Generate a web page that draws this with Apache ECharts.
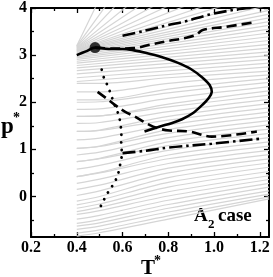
<!DOCTYPE html>
<html><head><meta charset="utf-8">
<script src="https://cdn.jsdelivr.net/npm/echarts@6/dist/echarts.min.js"></script>
<style>html,body{margin:0;padding:0;background:#fff}#c{width:273px;height:277px}</style>
</head><body><div id="c"></div>
<script>
// ---- tick values ----
const xTicks = [0.2, 0.4, 0.6, 0.8, 1.0, 1.2];
const xMinor = [0.3, 0.5, 0.7, 0.9, 1.1];
const yTicks = [0, 1, 2, 3, 4];
const yMinor = [-0.5, 0.5, 1.5, 2.5, 3.5];

// ---- gray fan isochores (straight, T=0.4 -> T=1.24; values above 4 are clipped) ----
const fanT = [0.4, 1.24];
const fanStart = [3.20, 3.19, 3.18, 3.17, 3.16, 3.15, 3.14, 3.13, 3.12, 3.11, 3.10, 3.09,
                  3.08, 3.06, 3.04, 3.02, 3.00, 2.97, 2.94, 2.91, 2.87, 2.83, 2.78, 2.73, 2.67, 2.60, 2.52, 2.44];
const fanEnd   = [11.6, 8.86, 7.49, 6.49, 5.87, 5.38, 5.04, 4.75, 4.51, 4.34, 4.18, 4.06,
                  3.95, 3.87, 3.79, 3.71, 3.63, 3.55, 3.47, 3.39, 3.31, 3.23, 3.15, 3.07, 2.99, 2.91, 2.83, 2.75];

// ---- gray lower isochores (p at T = 0.4, 0.5, 0.8, 1.24) ----
const lowT = [0.4, 0.5, 0.8, 1.24];
const lowP0 = [2.40, 2.22, 2.05, 2.00, 1.85, 1.70, 1.70, 1.55, 1.38, 1.38, 1.20, 1.02, 1.02, 0.88, 0.74, 0.74, 0.58,
               0.42, 0.42, 0.28, 0.15, 0.02, -0.10, -0.18, -0.25, -0.32, -0.38, -0.48, -0.57, -0.63, -0.70, -0.78, -0.84];
const lowP1 = [2.40, 2.22, 2.05, 2.01, 1.86, 1.71, 1.71, 1.57, 1.41, 1.40, 1.24, 1.07, 1.06, 0.94, 0.81, 0.80, 0.66,
               0.51, 0.50, 0.37, 0.24, 0.12, 0.00, -0.08, -0.16, -0.23, -0.30, -0.40, -0.49, -0.56, -0.63, -0.71, -0.77];
const lowP2 = [2.52, 2.40, 2.28, 2.20, 2.08, 1.96, 1.90, 1.80, 1.70, 1.62, 1.52, 1.42, 1.34, 1.25, 1.16, 1.08, 0.98,
               0.88, 0.80, 0.70, 0.60, 0.50, 0.40, 0.30, 0.20, 0.10, 0.01, -0.08, -0.17, -0.25, -0.33, -0.41, -0.48];
const lowP3 = [2.66, 2.58, 2.50, 2.42, 2.33, 2.24, 2.15, 2.06, 1.97, 1.88, 1.79, 1.70, 1.61, 1.52, 1.43, 1.34, 1.25,
               1.16, 1.07, 0.98, 0.89, 0.80, 0.71, 0.62, 0.53, 0.44, 0.36, 0.28, 0.20, 0.12, 0.05, -0.01, -0.05];

// ---- black curves [T, p] ----
const solidCurve = [[0.40,3.00],[0.44,3.08],[0.48,3.16],[0.54,3.13],[0.60,3.13],[0.65,3.10],[0.70,3.05],[0.77,2.96],[0.84,2.84],[0.90,2.70],[0.95,2.52],[0.98,2.37],[0.99,2.22],[0.975,2.08],[0.95,1.95],[0.905,1.76],[0.86,1.64],[0.817,1.56],[0.76,1.48],[0.696,1.38]];
const dashedUpper = [[0.48,3.16],[0.56,3.14],[0.652,3.15],[0.72,3.22],[0.80,3.30],[0.87,3.36],[0.922,3.43],[0.948,3.53],[1.05,3.60],[1.183,3.70]];
const dashedLower = [[0.491,2.22],[0.53,2.08],[0.565,1.95],[0.61,1.80],[0.652,1.70],[0.717,1.52],[0.76,1.44],[0.804,1.40],[0.89,1.38],[0.99,1.27],[1.187,1.38]];
const dashDotUpper = [[0.60,3.41],[0.70,3.52],[0.80,3.64],[0.87,3.71],[0.98,3.86],[1.10,3.97],[1.16,4.00]];
const dashDotLower = [[0.60,0.92],[0.70,0.97],[0.804,1.04],[0.99,1.12],[1.21,1.23]];
const dottedCurve = [[0.509,2.69],[0.52,2.50],[0.535,2.35],[0.548,2.18],[0.565,1.95],[0.578,1.80],[0.587,1.65],[0.592,1.50],[0.595,1.30],[0.594,1.10],[0.597,0.94],[0.595,0.80],[0.588,0.64],[0.58,0.47],[0.565,0.30],[0.545,0.15],[0.526,0.00],[0.509,-0.17],[0.49,-0.31]];
const criticalPoint = [[0.48, 3.16]];

const FONT = '"Liberation Serif", "Times New Roman", serif';
const X_MIN = 0.2, X_MAX = 1.24, Y_MIN = -0.86, Y_MAX = 4;

const series = [];
const gray = { color: '#d5d5d5', width: 1.2 };
for (let i = 0; i < fanStart.length; i++) {
  series.push({ type: 'line', symbol: 'none', silent: true, clip: true,
    lineStyle: gray, data: [[fanT[0], fanStart[i]], [fanT[1], fanEnd[i]]] });
}
for (let i = 0; i < lowP0.length; i++) {
  series.push({ type: 'line', symbol: 'none', silent: true, clip: true, smooth: 0.3,
    lineStyle: gray,
    data: [[lowT[0], lowP0[i]], [lowT[1], lowP1[i]], [lowT[2], lowP2[i]], [lowT[3], lowP3[i]]] });
}
const blk = (data, type, extra) => ({ type: 'line', symbol: 'none', clip: true, smooth: 0.35, z: 5,
  lineStyle: Object.assign({ color: '#000', width: 2.6, type: type }, extra || {}), data: data });
series.push(blk(solidCurve, 'solid'));
series.push(blk(dashedUpper, [10, 5]));
series.push(blk(dashedLower, [10, 5]));
series.push(blk(dashDotUpper, [13, 4, 2.5, 4]));
series.push(blk(dashDotLower, [13, 4, 2.5, 4]));
series.push(blk(dottedCurve, [0.1, 7.5], { cap: 'round', width: 2.8 }));
series.push({ type: 'scatter', symbol: 'circle', symbolSize: 11, z: 6,
  itemStyle: { color: '#000' }, data: criticalPoint });

const axLine = { show: true, onZero: false, lineStyle: { color: '#000', width: 2 } };
const noLine = { show: false, onZero: false };
const tickStyle = { color: '#000', width: 1.3 };
function xAx(pos, vals, len, labels, line) {
  return { type: 'value', min: X_MIN, max: X_MAX, position: pos,
    axisLine: line ? axLine : noLine,
    axisTick: { show: true, inside: true, length: len, customValues: vals, lineStyle: tickStyle },
    axisLabel: labels ? { show: true, customValues: vals, formatter: v => v.toFixed(1),
      fontFamily: FONT, fontWeight: 'bold', fontSize: 16, color: '#000', margin: 3 } : { show: false },
    splitLine: { show: false } };
}
function yAx(pos, vals, len, labels, line) {
  return { type: 'value', min: Y_MIN, max: Y_MAX, position: pos,
    axisLine: line ? axLine : noLine,
    axisTick: { show: true, inside: true, length: len, customValues: vals, lineStyle: tickStyle },
    axisLabel: labels ? { show: true, customValues: vals, formatter: v => String(v),
      fontFamily: FONT, fontWeight: 'bold', fontSize: 16, color: '#000', margin: 4 } : { show: false },
    splitLine: { show: false } };
}

const chart = echarts.init(document.getElementById('c'), null, { renderer: 'canvas' });
chart.setOption({
  animation: false,
  backgroundColor: '#fff',
  grid: { left: 31, top: 6, right: 4, bottom: 40, containLabel: false },
  xAxis: [xAx('bottom', xTicks, 5, true, true), xAx('bottom', xMinor, 3, false, false),
          xAx('top', xTicks, 5, false, true), xAx('top', xMinor, 3, false, false)],
  yAxis: [yAx('left', yTicks, 5, true, true), yAx('left', yMinor, 3, false, false),
          yAx('right', yTicks, 5, false, true), yAx('right', yMinor, 3, false, false)],
  series: series,
  graphic: [
    { type: 'text', x: 1, y: 116, style: { text: 'p', font: 'bold 23px ' + FONT, fill: '#000', verticalAlign: 'top' } },
    { type: 'text', x: 13, y: 111, style: { text: '*', font: 'bold 14px ' + FONT, fill: '#000', verticalAlign: 'top' } },
    { type: 'text', x: 141, y: 258, style: { text: 'T', font: 'bold 21px ' + FONT, fill: '#000', verticalAlign: 'top' } },
    { type: 'text', x: 154, y: 254, style: { text: '*', font: 'bold 14px ' + FONT, fill: '#000', verticalAlign: 'top' } },
    { type: 'text', x: 194, y: 207, style: { text: 'A', font: 'bold 19px ' + FONT, fill: '#000', verticalAlign: 'top' } },
    { type: 'text', x: 208, y: 218, style: { text: '2', font: 'bold 13px ' + FONT, fill: '#000', verticalAlign: 'top' } },
    { type: 'text', x: 218, y: 207, style: { text: 'case', font: 'bold 19px ' + FONT, fill: '#000', verticalAlign: 'top' } }
  ]
});
</script>
</body></html>
